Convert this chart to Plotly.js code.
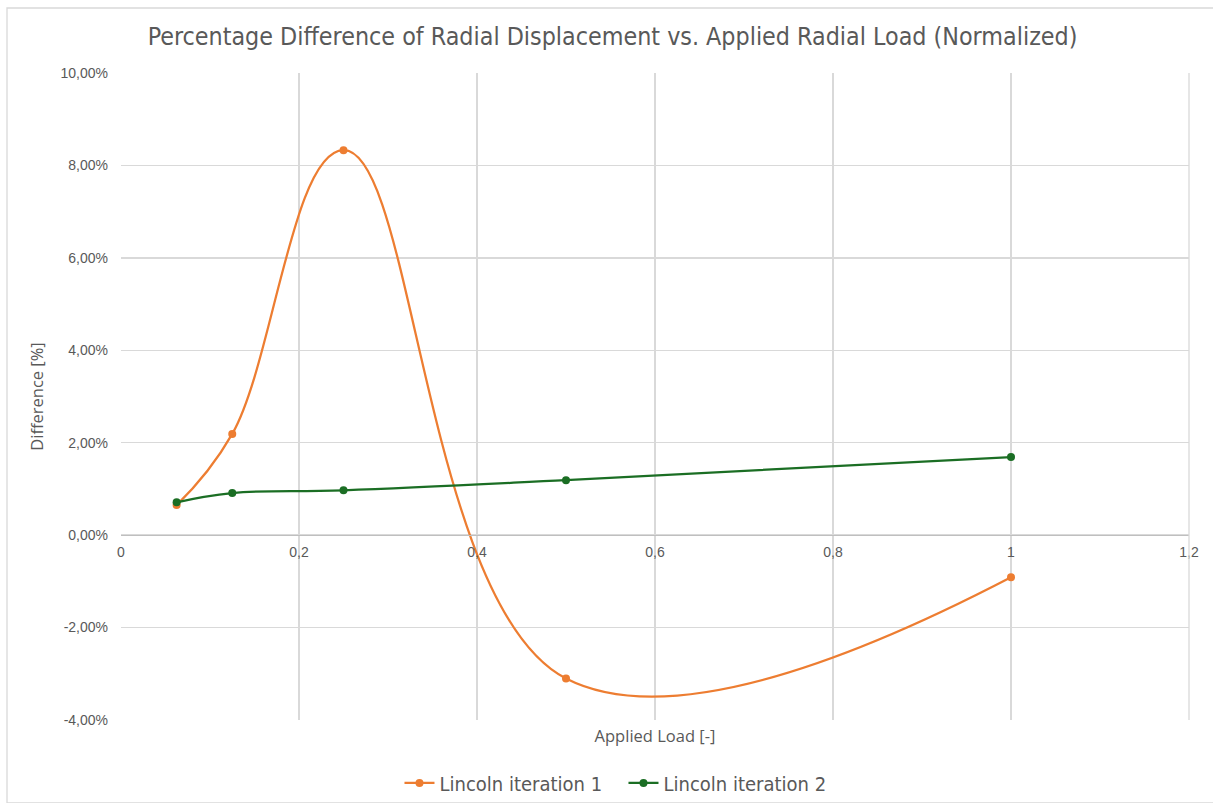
<!DOCTYPE html>
<html>
<head>
<meta charset="utf-8">
<script src="https://cdn.plot.ly/plotly-3.0.1.min.js"></script>
<style>
  html, body { margin: 0; padding: 0; background: #ffffff; }
  #chart { width: 1213px; height: 803px; }
</style>
</head>
<body>
<div id="chart"></div>
<script>
// Normalized applied radial load
const appliedLoad = [0.0625, 0.125, 0.25, 0.5, 1];

// Percentage difference of radial displacement (fractions, shown as %)
const iteration1 = [0.0065, 0.0219, 0.0833, -0.0310, -0.0091];
const iteration2 = [0.0071, 0.0091, 0.0097, 0.0119, 0.0169];

const seriesNames = ['Lincoln iteration 1', 'Lincoln iteration 2'];
const seriesColors = ['#ED7D31', '#1B6E24'];

const xTicks = [0, 0.2, 0.4, 0.6, 0.8, 1, 1.2];
const xTickLabels = ['0', '0,2', '0,4', '0,6', '0,8', '1', '1,2'];
const yTicks = [-0.04, -0.02, 0, 0.02, 0.04, 0.06, 0.08, 0.10];
const yTickLabels = ['-4,00%', '-2,00%', '0,00%', '2,00%', '4,00%', '6,00%', '8,00%', '10,00%'];

const textGrey = '#595959';
const gridGrey = '#d9d9d9';
const narrowFont = 'Liberation Sans Narrow, DejaVu Sans Condensed, sans-serif';
const tickFont = 'Liberation Sans, Arial, sans-serif';
const labelFont = 'Open Sans, Liberation Sans, sans-serif';

function series(y, i) {
  return {
    x: appliedLoad,
    y: y,
    name: seriesNames[i],
    type: 'scatter',
    mode: 'lines+markers',
    line: { color: seriesColors[i], width: 2.25, shape: 'spline', smoothing: 1.15 },
    marker: { color: seriesColors[i], size: 8 }
  };
}

const data = [series(iteration1, 0), series(iteration2, 1)];

// x-axis ticks sit on the zero line, so the axis is placed at y = 0
const yMin = -0.04, yMax = 0.10;
const zeroPos = (0 - yMin) / (yMax - yMin);

// invisible trace that binds xaxis2, which carries the title under the plot
data.push({ x: [0], y: [null], xaxis: 'x2', yaxis: 'y', showlegend: false, hoverinfo: 'skip', mode: 'markers' });

const layout = {
  width: 1213,
  height: 803,
  paper_bgcolor: '#ffffff',
  plot_bgcolor: '#ffffff',
  margin: { l: 121, r: 24, t: 73, b: 83 },
  showlegend: true,
  title: {
    text: 'Percentage Difference of Radial Displacement vs. Applied Radial Load (Normalized)',
    font: { family: narrowFont, size: 24.8, color: textGrey },
    xref: 'container', x: 0.505, xanchor: 'center',
    yref: 'container', y: 0.955, yanchor: 'middle'
  },
  xaxis: {
    range: [0, 1.2],
    tickvals: xTicks,
    ticktext: xTickLabels,
    anchor: 'free',
    position: zeroPos,
    showgrid: true,
    gridcolor: gridGrey,
    gridwidth: 1.3,
    zeroline: false,
    showline: true,
    linecolor: '#bfbfbf',
    linewidth: 1.3,
    ticks: '',
    ticklabelstandoff: 4,
    tickfont: { family: tickFont, size: 14, color: textGrey },
    fixedrange: true
  },
  xaxis2: {
    range: [0, 1.2],
    overlaying: 'x',
    anchor: 'y',
    side: 'bottom',
    showgrid: false,
    zeroline: false,
    showticklabels: false,
    ticks: '',
    title: {
      text: 'Applied Load [-]',
      font: { family: labelFont, size: 16.5, color: textGrey },
      standoff: 10
    },
    fixedrange: true
  },
  yaxis: {
    range: [yMin, yMax],
    tickvals: yTicks,
    ticktext: yTickLabels,
    showgrid: true,
    gridcolor: gridGrey,
    gridwidth: 1.3,
    zeroline: false,
    showline: false,
    ticks: '',
    ticklabelstandoff: 12,
    tickfont: { family: tickFont, size: 14, color: textGrey },
    title: {
      text: 'Difference [%]',
      font: { family: labelFont, size: 16.5, color: textGrey },
      standoff: 12
    },
    fixedrange: true
  },
  legend: {
    orientation: 'h',
    xref: 'container', x: 0.514, xanchor: 'center',
    yref: 'container', y: 0.025, yanchor: 'middle',
    font: { family: narrowFont, size: 20, color: textGrey },
    itemwidth: 30,
    entrywidth: 179,
    entrywidthmode: 'pixels',
    tracegroupgap: 0
  },
  shapes: [
    // right border of the plotting area
    {
      type: 'line', xref: 'paper', yref: 'paper',
      x0: 1, x1: 1, y0: 0, y1: 1,
      line: { color: gridGrey, width: 1.3 }
    },
    // outline of the chart area
    {
      type: 'rect', xref: 'paper', yref: 'paper',
      x0: (7 - 121) / 1068, x1: (1216 - 121) / 1068,
      y0: -(83 / 647), y1: 1 + (65 / 647),
      line: { color: '#d9d9d9', width: 1.3 },
      layer: 'below'
    }
  ]
};

Plotly.newPlot('chart', data, layout, { displayModeBar: false, staticPlot: true });
</script>
</body>
</html>
